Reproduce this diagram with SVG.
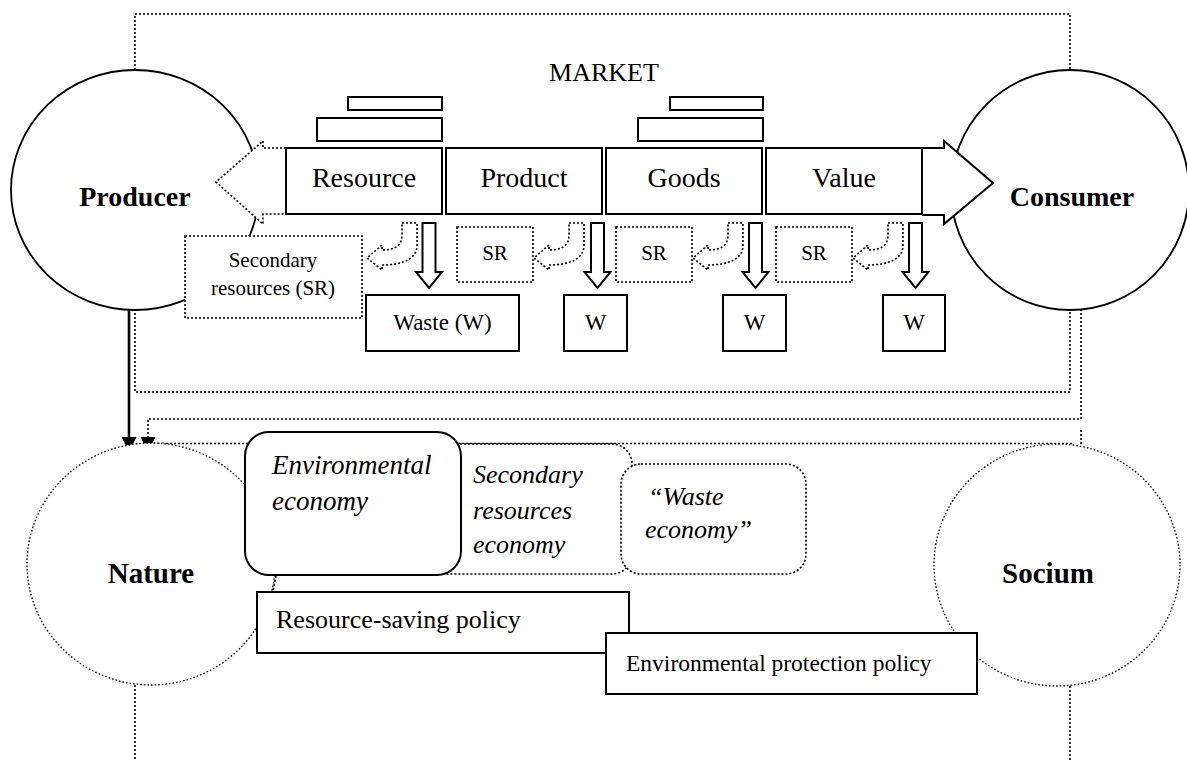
<svg xmlns="http://www.w3.org/2000/svg" width="1187" height="760" viewBox="0 0 1187 760">
  <style>
    text { font-family: "Liberation Serif", "Times New Roman", serif; fill: #000; }
    .lg { font-size: 28px; }
    .md { font-size: 23px; }
    .sm { font-size: 21px; }
    .b { font-weight: bold; }
    .it { font-style: italic; font-size: 26px; }
    .mid { text-anchor: middle; }
    .box { fill: #fff; stroke: #000; stroke-width: 2; }
    .dot { fill: #fff; stroke: #000; stroke-width: 1.6; stroke-dasharray: 2 2; }
    .dline { fill: none; stroke: #000; stroke-width: 1.6; stroke-dasharray: 2 2; }
    .circ { fill: #fff; stroke: #000; stroke-width: 1.8; }
    .cdot { fill: #fff; stroke: #000; stroke-width: 1.3; stroke-dasharray: 1.6 2; }
  </style>
  <defs>
    <!-- curved hollow arrow turning from down to left -->
    <path id="hook" d="M-15,0 H0 V22 C0,36 -14,42 -35,42 V47 L-50,35 L-35,22 V27 C-24,27 -15,24 -15,12 Z"/>
    <!-- hollow arrow pointing down -->
    <path id="darr" d="M-6.5,0 H6.5 V49 H13 L0,65 L-13,49 H-6.5 Z"/>
    <marker id="tri" viewBox="0 0 10 10" refX="10" refY="5" markerWidth="15" markerHeight="15" markerUnits="userSpaceOnUse" orient="auto">
      <path d="M0,0 L10,5 L0,10 Z" fill="#000"/>
    </marker>
  </defs>

  <!-- connectors and frame lines -->
  <g id="connectors">
    <path class="dline" d="M135,70 V14 H1070 V70"/>
    <path class="dline" d="M135,309 V392 H1070 V309"/>
    <line x1="129" y1="309" x2="129" y2="452" stroke="#000" stroke-width="2.6" marker-end="url(#tri)"/>
    <path class="dline" d="M1081,309 V419 H148 V452" marker-end="url(#tri)"/>
    <path class="dline" d="M150,443.5 H1072"/>
    <path class="dline" d="M1081,430 V446"/>
    <path class="dline" d="M135,685 V760"/>
    <path class="dline" d="M1070,686 V760"/>
  </g>

  <g id="producer">
    <ellipse class="circ" cx="135" cy="190" rx="124" ry="120"/>
    <text class="lg b mid" x="135" y="206">Producer</text>
  </g>
  <g id="consumer">
    <ellipse class="circ" cx="1070" cy="190" rx="119" ry="120"/>
    <text class="lg b mid" x="1072" y="206">Consumer</text>
  </g>

  <g id="market-label">
    <text class="mid" x="604" y="81" style="font-size:26px">MARKET</text>
  </g>

  <g id="to-producer">
    <path class="dot" d="M286,148 H263 V141 L216,182 L263,224 V214 H286"/>
  </g>
  <g id="to-consumer">
    <path class="box" d="M922,148 H944 V141 L993,183 L944,224 V215 H922"/>
  </g>

  <g id="bars">
    <rect class="box" x="348" y="97" width="94" height="13"/>
    <rect class="box" x="317" y="118" width="125" height="23"/>
    <rect class="box" x="670" y="97" width="93" height="13"/>
    <rect class="box" x="638" y="118" width="125" height="23"/>
  </g>

  <g id="resource">
    <rect class="box" x="286" y="148" width="156" height="66"/>
    <text class="lg mid" x="364" y="187">Resource</text>
  </g>
  <g id="product">
    <rect class="box" x="446" y="148" width="156" height="66"/>
    <text class="lg mid" x="524" y="187">Product</text>
  </g>
  <g id="goods">
    <rect class="box" x="606" y="148" width="156" height="66"/>
    <text class="lg mid" x="684" y="187">Goods</text>
  </g>
  <g id="value">
    <rect class="box" x="766" y="148" width="156" height="66"/>
    <text class="lg mid" x="844" y="187">Value</text>
  </g>

  <g id="flows">
    <use href="#hook" class="dot" transform="translate(417,223)"/>
    <use href="#hook" class="dot" transform="translate(584,223)"/>
    <use href="#hook" class="dot" transform="translate(743,223)"/>
    <use href="#hook" class="dot" transform="translate(903,223)"/>
    <use href="#darr" class="box" transform="translate(429,223)"/>
    <use href="#darr" class="box" transform="translate(597.5,223)"/>
    <use href="#darr" class="box" transform="translate(755.5,223)"/>
    <use href="#darr" class="box" transform="translate(915.5,223)"/>
  </g>

  <g id="secondary-resources">
    <rect class="dot" x="185" y="236" width="177" height="82"/>
    <text class="sm mid" x="273" y="267">Secondary</text>
    <text class="sm mid" x="273" y="295">resources (SR)</text>
  </g>
  <g id="sr-1">
    <rect class="dot" x="457" y="227" width="76" height="55"/>
    <text class="sm mid" x="495" y="260">SR</text>
  </g>
  <g id="sr-2">
    <rect class="dot" x="616" y="227" width="76" height="55"/>
    <text class="sm mid" x="654" y="260">SR</text>
  </g>
  <g id="sr-3">
    <rect class="dot" x="776" y="227" width="76" height="55"/>
    <text class="sm mid" x="814" y="260">SR</text>
  </g>

  <g id="waste">
    <rect class="box" x="366" y="295" width="153" height="56"/>
    <text class="md mid" x="442.5" y="330">Waste (W)</text>
  </g>
  <g id="w-1">
    <rect class="box" x="564" y="295" width="63" height="56"/>
    <text class="md mid" x="595.5" y="330">W</text>
  </g>
  <g id="w-2">
    <rect class="box" x="723" y="295" width="63" height="56"/>
    <text class="md mid" x="754.5" y="330">W</text>
  </g>
  <g id="w-3">
    <rect class="box" x="883" y="295" width="62" height="56"/>
    <text class="md mid" x="914" y="330">W</text>
  </g>

  <g id="nature">
    <ellipse class="cdot" cx="151" cy="564" rx="124" ry="121"/>
    <text class="b mid" x="151" y="583" style="font-size:29px">Nature</text>
  </g>
  <g id="socium">
    <ellipse class="cdot" cx="1057" cy="565" rx="123" ry="121"/>
    <text class="b mid" x="1048" y="583" style="font-size:29px">Socium</text>
  </g>

  <g id="secondary-economy">
    <rect class="dot" x="420" y="444" width="212" height="130" rx="20"/>
    <text class="it" x="473" y="483">Secondary</text>
    <text class="it" x="473" y="519">resources</text>
    <text class="it" x="473" y="553">economy</text>
  </g>
  <g id="waste-economy">
    <rect class="dot" x="621" y="464" width="185" height="110" rx="20"/>
    <text class="it" x="648" y="505">“Waste</text>
    <text class="it" x="645" y="538">economy”</text>
  </g>
  <g id="environmental-economy">
    <rect class="box" x="245" y="432" width="216" height="143" rx="24"/>
    <text class="it" x="272" y="474" style="font-size:27px">Environmental</text>
    <text class="it" x="272" y="510" style="font-size:27px">economy</text>
  </g>
  <path class="dline" d="M276,576 L273,591"/>

  <g id="resource-saving">
    <rect class="box" x="257" y="592" width="372" height="61"/>
    <text x="276" y="628" style="font-size:26px">Resource-saving policy</text>
  </g>
  <g id="environmental-protection">
    <rect class="box" x="606" y="633" width="371" height="61"/>
    <text x="626" y="671" style="font-size:23.5px">Environmental protection policy</text>
  </g>
</svg>
